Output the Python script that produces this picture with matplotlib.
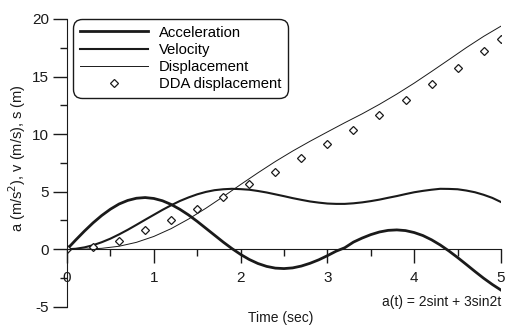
import matplotlib
matplotlib.use("Agg")
import matplotlib.pyplot as plt
from matplotlib.ticker import MultipleLocator

plt.rcParams["font.family"] = ["Liberation Sans", "DejaVu Sans"]
plt.rcParams["axes.unicode_minus"] = False

# values
t_fine = [0.0, 0.1, 0.2, 0.3, 0.4, 0.5, 0.6, 0.7, 0.8, 0.9, 1.0, 1.1, 1.2,
          1.3, 1.4, 1.5, 1.6, 1.7, 1.8, 1.9, 2.0, 2.1, 2.2, 2.3, 2.4, 2.5,
          2.6, 2.7, 2.8, 2.9, 3.0, 3.1, 3.2, 3.3, 3.4, 3.5, 3.6, 3.7, 3.8,
          3.9, 4.0, 4.1, 4.2, 4.3, 4.4, 4.5, 4.6, 4.7, 4.8, 4.9, 5.0]
accel = [0.0, 0.80, 1.57, 2.29, 2.93, 3.48, 3.93, 4.24, 4.43, 4.49, 4.41,
         4.21, 3.89, 3.47, 2.98, 2.42, 1.82, 1.22, 0.62, 0.06, -0.45, -0.89,
         -1.24, -1.49, -1.64, -1.68, -1.62, -1.46, -1.22, -0.92, -0.56,
         -0.17, 0.13, 0.62, 0.97, 1.27, 1.50, 1.64, 1.68, 1.62, 1.45, 1.19,
         0.82, 0.37, -0.15, -0.72, -1.32, -1.93, -2.52, -3.06, -3.55]
veloc = [0.0, 0.04, 0.16, 0.35, 0.61, 0.92, 1.29, 1.69, 2.12, 2.56, 2.99,
         3.42, 3.82, 4.19, 4.50, 4.77, 4.98, 5.13, 5.21, 5.25, 5.22, 5.17,
         5.06, 4.93, 4.77, 4.61, 4.44, 4.29, 4.15, 4.05, 3.97, 3.94, 3.94,
         3.99, 4.07, 4.18, 4.31, 4.47, 4.62, 4.79, 4.95, 5.07, 5.17, 5.25,
         5.24, 5.21, 5.10, 4.95, 4.73, 4.46, 4.10]

t = [0.0, 0.2, 0.4, 0.6, 0.8, 1.0, 1.2, 1.4, 1.6, 1.8, 2.0, 2.2, 2.4,
     2.6, 2.8, 3.0, 3.2, 3.4, 3.6, 3.8, 4.0, 4.2, 4.4, 4.6, 4.8, 5.0]
displ = [0.0, 0.01, 0.08, 0.26, 0.60, 1.11, 1.79, 2.62, 3.56, 4.57, 5.62,
         6.64, 7.62, 8.53, 9.38, 10.19, 10.99, 11.76, 12.59, 13.48, 14.43,
         15.44, 16.47, 17.51, 18.49, 19.38]

t_dda = [0.0, 0.3, 0.6, 0.9, 1.2, 1.5, 1.8, 2.1, 2.4, 2.7, 3.0, 3.3, 3.6,
         3.9, 4.2, 4.5, 4.8, 5.0]
dda = [0.0, 0.23, 0.75, 1.68, 2.55, 3.5, 4.57, 5.68, 6.75, 7.91, 9.13,
       10.35, 11.62, 12.96, 14.35, 15.77, 17.24, 18.26]

ink = "#1a1a1a"

fig = plt.figure(figsize=(5.05, 3.26), dpi=100)
ax = fig.add_axes([67 / 505, 1 - 306.8 / 326, 434 / 505, (306.8 - 19) / 326])

ax.plot(t_fine, accel, color=ink, lw=2.0, label="Acceleration")
ax.plot(t_fine, veloc, color=ink, lw=1.5, label="Velocity")
ax.plot(t, displ, color=ink, lw=0.7, label="Displacement")
ax.plot(t_dda, dda, ls="none", marker="D", ms=4.3, mfc="white",
        mec=ink, mew=0.9, label="DDA displacement")

ax.set_xlim(0, 5)
ax.set_ylim(-5, 20)

# axes look
ax.spines["top"].set_visible(False)
ax.spines["right"].set_visible(False)
ax.spines["bottom"].set_position(("data", 0))
ax.spines["left"].set_color(ink)
ax.spines["bottom"].set_color(ink)

ax.xaxis.set_major_locator(MultipleLocator(1))
ax.xaxis.set_minor_locator(MultipleLocator(0.5))
ax.yaxis.set_major_locator(MultipleLocator(5))
ax.yaxis.set_minor_locator(MultipleLocator(2.5))
ax.tick_params(which="major", length=10, width=1, color=ink, labelsize=11,
               labelcolor=ink)
ax.tick_params(which="minor", length=5, width=1, color=ink)
ax.tick_params(axis="x", which="major", pad=6)
ax.tick_params(axis="y", which="major", pad=3)

fig.text(17 / 505, 1 - 158 / 326, "a (m/s$^2$), v (m/s), s (m)",
         rotation=90, ha="center", va="center", fontsize=10.5, color=ink)
fig.text(281 / 505, 1 - 318 / 326, "Time (sec)", ha="center", va="center",
         fontsize=10, color=ink)
fig.text(501 / 505, 1 - 302 / 326, "a(t) = 2sint + 3sin2t", ha="right",
         va="center", fontsize=10, color=ink)

leg = ax.legend(loc="upper left", bbox_to_anchor=(6 / 434, 1.0),
                fontsize=10.7, handlelength=4.6, handletextpad=0.75,
                labelspacing=0.22, borderpad=0.45, frameon=True,
                edgecolor=ink, framealpha=1, borderaxespad=0)
frame = leg.get_frame()
frame.set_linewidth(1.0)
frame.set_boxstyle("round", pad=0, rounding_size=0.6)

fig.savefig("out.png", dpi=100)
